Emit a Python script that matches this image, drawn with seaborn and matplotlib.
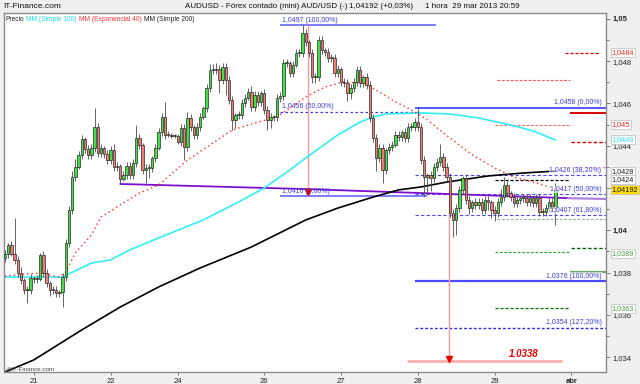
import matplotlib
matplotlib.use("Agg")
import matplotlib.pyplot as plt
import seaborn as sns
import pandas as pd

# ---------------- data ----------------
closes = [
    1.03888, 1.03931, 1.03888, 1.03860, 1.03798, 1.03765, 1.03718, 1.03718, 1.03774, 1.03770,
    1.03770, 1.03883, 1.03798, 1.03751, 1.03718, 1.03718, 1.03704, 1.03708, 1.03779, 1.03940,
    1.04096, 1.04252, 1.04299, 1.04356, 1.04432, 1.04384, 1.04356, 1.04389, 1.04488, 1.04366,
    1.04389, 1.04361, 1.04332, 1.04380, 1.04299, 1.04304, 1.04243, 1.04261, 1.04304, 1.04261,
    1.04318, 1.04436, 1.04403, 1.04285, 1.04295, 1.04295, 1.04342, 1.04389, 1.04465, 1.04536,
    1.04451, 1.04451, 1.04446, 1.04446, 1.04418, 1.04484, 1.04394, 1.04531, 1.04488, 1.04451,
    1.04488, 1.04536, 1.04578, 1.04673, 1.04758, 1.04758, 1.04763, 1.04711, 1.04772, 1.04711,
    1.04616, 1.04522, 1.04545, 1.04545, 1.04602, 1.04626, 1.04654, 1.04583, 1.04640, 1.04607,
    1.04649, 1.04569, 1.04522, 1.04536, 1.04536, 1.04626, 1.04635, 1.04791, 1.04791, 1.04744,
    1.04782, 1.04838, 1.04838, 1.04933, 1.04890, 1.04838, 1.04725, 1.04725, 1.04900, 1.04853,
    1.04843, 1.04815, 1.04815, 1.04744, 1.04763, 1.04701, 1.04696, 1.04649, 1.04673, 1.04701,
    1.04758, 1.04696, 1.04725, 1.04687, 1.04531, 1.04436, 1.04342, 1.04389, 1.04285, 1.04380,
    1.04394, 1.04403, 1.04451, 1.04441, 1.04465, 1.04436, 1.04488, 1.04488, 1.04512, 1.04488,
    1.04332, 1.04252, 1.04261, 1.04247, 1.04299, 1.04323, 1.04347, 1.04299, 1.04252, 1.04082,
    1.04049, 1.04105, 1.04191, 1.04247, 1.04143, 1.04105, 1.04134, 1.04120, 1.04134, 1.04096,
    1.04143, 1.04134, 1.04096, 1.04082, 1.04134, 1.04157, 1.04214, 1.04176, 1.04157, 1.04129,
    1.04143, 1.04153, 1.04153, 1.04134, 1.04153, 1.04129, 1.04153, 1.04087, 1.04087, 1.04105,
    1.04134, 1.04105, 1.04192,
]
first_open = 1.03870
# upper / lower shadows in pips (0.0001)
wick_up = [
    2, 1, 2, 17, 2, 3, 1, 2, 2, 1,
    2, 1, 2, 2, 1, 2, 2, 1, 2, 2,
    2, 3, 4, 2, 2, 1, 2, 2, 9, 2,
    2, 1, 2, 2, 3, 2, 1, 2, 2, 2,
    2, 6, 2, 1, 2, 2, 1, 2, 2, 2,
    7, 2, 1, 1, 1, 2, 2, 3, 2, 1,
    2, 2, 1, 2, 3, 3, 3, 2, 2, 2,
    2, 2, 1, 2, 2, 2, 2, 3, 2, 2,
    1, 2, 2, 2, 1, 2, 2, 2, 2, 1,
    2, 2, 2, 4, 2, 1, 2, 2, 2, 2,
    1, 2, 2, 2, 2, 1, 2, 2, 2, 2,
    2, 2, 1, 2, 2, 2, 2, 2, 2, 1,
    2, 2, 2, 2, 1, 2, 2, 2, 2, 7,
    2, 2, 1, 2, 2, 2, 6, 2, 2, 2,
    2, 2, 2, 1, 2, 2, 1, 2, 2, 2,
    2, 2, 1, 2, 2, 4, 4, 2, 1, 2,
    2, 1, 2, 2, 2, 1, 2, 2, 2, 2,
    2, 2, 3,
]
wick_dn = [
    2, 2, 1, 2, 2, 2, 2, 6, 2, 2,
    2, 1, 2, 2, 3, 2, 2, 2, 7, 2,
    2, 2, 2, 1, 2, 2, 2, 2, 2, 2,
    2, 2, 2, 2, 2, 2, 2, 1, 2, 2,
    2, 2, 2, 2, 6, 5, 2, 2, 1, 2,
    2, 1, 1, 1, 1, 2, 6, 2, 2, 2,
    2, 2, 1, 2, 2, 2, 2, 6, 2, 7,
    2, 5, 4, 2, 2, 2, 1, 2, 2, 2,
    2, 2, 5, 4, 2, 2, 2, 2, 2, 2,
    2, 1, 2, 2, 2, 2, 3, 3, 2, 2,
    2, 2, 2, 2, 2, 2, 2, 4, 3, 2,
    2, 2, 2, 2, 2, 2, 6, 2, 6, 2,
    2, 2, 1, 2, 2, 2, 2, 2, 2, 2,
    2, 9, 8, 6, 2, 2, 2, 2, 2, 2,
    8, 7, 2, 2, 2, 3, 2, 2, 2, 2,
    2, 4, 4, 4, 2, 2, 2, 2, 2, 2,
    2, 2, 2, 2, 2, 2, 2, 2, 2, 2,
    2, 2, 8,
]

day_ticks = [9, 33, 54, 81, 105, 129, 153, 177]
day_labels = ["21", "22", "24", "26", "27", "28", "29", "abr"]

ma100_x = [0, 18, 27, 33, 39, 48, 62, 73, 81, 89, 94, 104, 111, 115, 119, 130, 139, 148, 158, 165, 172]
ma100_y = [1.03779, 1.03779, 1.03845, 1.03860, 1.03907, 1.03964, 1.04049, 1.04134, 1.04200, 1.04285,
           1.04342, 1.04451, 1.04512, 1.04536, 1.04550, 1.04555, 1.04550, 1.04531, 1.04498, 1.04470, 1.04427]

ema40_x = [0, 11, 17, 19, 22, 27, 30, 33, 37, 42, 48, 57, 65, 71, 78, 85, 94, 100, 106, 112,
           116, 121, 127, 132, 137, 144, 147, 153, 159, 166, 172]
ema40_y = [1.03784, 1.03798, 1.03779, 1.03803, 1.03893, 1.03978, 1.04063, 1.04091, 1.04129, 1.04176,
           1.04214, 1.04332, 1.04413, 1.04474, 1.04507, 1.04536, 1.04630, 1.04678, 1.04701, 1.04696,
           1.04663, 1.04616, 1.04569, 1.04522, 1.04460, 1.04380, 1.04347, 1.04295, 1.04252, 1.04224, 1.04195]

ma200_x = [0, 9, 24, 36, 48, 61, 77, 94, 104, 115, 123, 130, 138, 151, 162, 172]
ma200_y = [1.03330, 1.03387, 1.03529, 1.03637, 1.03732, 1.03822, 1.03921, 1.04049, 1.04105, 1.04157,
           1.04191, 1.04205, 1.04228, 1.04257, 1.04271, 1.04280]

trend_x = [36, 94, 176]
trend_y = [1.04219, 1.04195, 1.04152]
trend_ext_x = [176, 188]
trend_ext_y = [1.04152, 1.04148]

fib1_levels = [1.0497, 1.0456, 1.0416]
fib1_labels = ["1,0497 (100,00%)", "1,0456 (50,00%)", "1,0416 (0,00%)"]
fib2_levels = [1.0458, 1.0426, 1.0417, 1.0407, 1.0376, 1.0354]
fib2_labels = ["1,0458 (0,00%)", "1,0426 (38,20%)", "1,0417 (50,00%)",
               "1,0407 (61,80%)", "1,0376 (100,00%)", "1,0354 (127,20%)"]
target_level = 1.0338
target_label = "1.0338"
red_levels = [1.0484, 1.0471, 1.04555, 1.0450, 1.04417, 1.0430]
black_level = 1.0424
green_levels = [1.04055, 1.03916, 1.03897, 1.03803, 1.03633]

# 1,042 is hidden behind the yellow last-price box in the reference
ytick_vals = [1.034, 1.036, 1.038, 1.040, 1.042, 1.044, 1.046, 1.048, 1.050]
ytick_labels = ["1,034", "1,036", "1,038", "1,04", "", "1,044", "1,046", "1,048", "1,05"]
ytick_minor = [1.035, 1.037, 1.039, 1.041, 1.043, 1.045, 1.047, 1.049]

side_labels = [("1,0484", 1.0484), ("1,045", 1.0450), ("1,0443", 1.0443), ("1,0428", 1.0428),
               ("1,0424", 1.0424), ("1,04192", 1.04192), ("1,0389", 1.0389), ("1,0363", 1.0363)]

legend_items = ["Precio", "MM (Simple 100)", "MM (Exponencial 40)", "MM (Simple 200)"]

# ---------------- figure ----------------
sns.set_theme(style="white")
plt.rcParams['font.family'] = ['Liberation Sans', 'DejaVu Sans']

W, H = 640, 384
fig = plt.figure(figsize=(6.4, 3.84), dpi=100, facecolor='#F0F0F0')
ax = fig.add_axes([4 / W, 1 - 372 / H, 602 / W, 359 / H])
ax.set_facecolor('white')

n = len(closes)
idx = list(range(n))
opens = [first_open] + closes[:-1]
df = pd.DataFrame({"i": idx, "open": opens, "close": closes, "up": wick_up, "dn": wick_dn})
df["top"] = df[["open", "close"]].max(axis=1)
df["bot"] = df[["open", "close"]].min(axis=1)
df["high"] = df["top"] + df["up"] * 1e-4
df["low"] = df["bot"] - df["dn"] * 1e-4
df["h"] = (df["top"] - df["bot"]).clip(lower=0.00003)
df["col"] = ["#44DD44" if c >= o else "#EE7B74" for o, c in zip(df["open"], df["close"])]

# left fib group
ax.hlines(fib1_levels[0], 86, 134.7, color='#5A5AFF', lw=1.1, zorder=1.5)
ax.hlines(fib1_levels[1], 86, 129.7, color='#3A3AEE', lw=0.9, linestyles=(0, (2, 2)), zorder=1.5)
ax.hlines(fib1_levels[2], 86, 131.9, color='#5A5AFF', lw=1.1, zorder=1.5)
# right fib group
ax.hlines(fib2_levels[0], 128, 188, color='#3A3AFF', lw=1.2, zorder=1.5)
for lv in fib2_levels[1:4]:
    ax.hlines(lv, 128, 188, color='#4A4AEE', lw=0.8, linestyles=(0, (3, 2)), zorder=1.5)
ax.hlines(fib2_levels[4], 128, 188, color='#4A4AFF', lw=1.6, zorder=1.5)
ax.hlines(fib2_levels[5], 128, 188, color='#2A2ADD', lw=1.0, linestyles=(0, (2, 1.5)), zorder=1.5)

# red levels
ax.hlines(red_levels[0], 175, 186, color='#DD0000', lw=0.9, linestyles=(0, (2.5, 1.5)), zorder=1.5)
ax.hlines(red_levels[1], 153.8, 176.6, color='#FF5555', lw=0.8, linestyles=(0, (2.5, 1.5)), zorder=1.5)
ax.hlines(red_levels[2], 176.6, 188, color='#DD0000', lw=1.4, zorder=1.5)
ax.hlines(red_levels[3], 153.1, 176.6, color='#FF6666', lw=0.8, linestyles=(0, (2.5, 1.5)), zorder=1.5)
ax.hlines(red_levels[4], 177, 188, color='#DD0000', lw=1.0, linestyles=(0, (2.5, 1.5)), zorder=1.5)
ax.hlines(red_levels[5], 177, 188, color='#FF8888', lw=0.8, linestyles=(0, (2.5, 1.5)), zorder=1.5)
ax.hlines(black_level, 153.1, 176.6, color='black', lw=0.9, linestyles=(0, (2.5, 1.5)), zorder=1.5)
# green levels
ax.hlines(green_levels[0], 153.8, 188, color='#88BB88', lw=0.8, linestyles=(0, (2.5, 1.5)), zorder=1.5)
ax.hlines(green_levels[1], 177, 188, color='#006600', lw=1.0, linestyles=(0, (2.5, 1.5)), zorder=1.5)
ax.hlines(green_levels[2], 153.1, 176.6, color='#339933', lw=0.8, linestyles=(0, (2.5, 1.5)), zorder=1.5)
ax.hlines(green_levels[3], 176.6, 188, color='#66AA66', lw=1.6, zorder=1.5)
ax.hlines(green_levels[4], 153.1, 176.6, color='#007700', lw=0.9, linestyles=(0, (2.5, 1.5)), zorder=1.5)

# projection arrows
ax.vlines(94.7, fib1_levels[2] + 0.00012, fib1_levels[0], color='#FF9999', lw=1.0, zorder=1.6)
ax.plot([94.7], [fib1_levels[2] + 0.00020], marker='v', color='#EE0000', ms=4, zorder=6)
ax.vlines(138.75, target_level + 0.0001, 1.0419, color='#FF9999', lw=1.0, zorder=1.6)
ax.hlines(target_level, 125.6, 174, color='#FFB0B0', lw=2.0, zorder=1.6)
ax.plot([138.75], [target_level + 0.00012], marker='v', color='#EE0000', ms=4, zorder=6)
ax.annotate(target_label, xy=(162, target_level), xytext=(0, 2), textcoords='offset points',
            ha='center', va='bottom', color='#EE0000', fontsize=7, fontweight='bold',
            fontstyle='italic', zorder=7)

# trend line (purple)
sns.lineplot(x=trend_x, y=trend_y, ax=ax, color='#7A10CC', linewidth=1.3, zorder=2.2)
sns.lineplot(x=trend_ext_x, y=trend_ext_y, ax=ax, color='#B080E0', linewidth=1.6, zorder=2.2)

# moving averages
sns.lineplot(x=ma100_x, y=ma100_y, ax=ax, color='#33EEF5', linewidth=1.2, zorder=2.3)
sns.lineplot(x=ma200_x, y=ma200_y, ax=ax, color='black', linewidth=1.2, zorder=2.3)
sns.lineplot(x=ema40_x, y=ema40_y, ax=ax, color='#FF2A2A', linewidth=1.0,
             dashes=False, zorder=2.3)
ax.lines[-1].set_linestyle((0, (1, 2.2)))

# candles
ax.vlines(df["i"], df["low"], df["high"], color='#4A4A4A', lw=0.6, zorder=3)
ax.bar(df["i"], df["h"], bottom=df["bot"], width=0.72, color=df["col"],
       edgecolor='#1A1A1A', linewidth=0.45, zorder=4)

# fib labels
fib_c = '#3C3CE0'
for lv, lab in zip(fib1_levels, fib1_labels):
    ax.annotate(lab, xy=(86.6, lv), xytext=(0, 1), textcoords='offset points',
                ha='left', va='bottom', fontsize=5, color=fib_c, zorder=7)
for lv, lab in zip(fib2_levels, fib2_labels):
    ax.annotate(lab, xy=(186.4, lv), xytext=(0, 1), textcoords='offset points',
                ha='right', va='bottom', fontsize=5, color=fib_c, zorder=7,
                bbox=dict(boxstyle='square,pad=0.05', fc='white', ec='none', alpha=0.6))

# axes limits & ticks
ax.set_xlim(-0.3, 187.8)
ax.set_ylim(1.0333, 1.050274)
ax.yaxis.tick_right()
ax.set_yticks(ytick_vals)
ax.set_yticklabels(ytick_labels)
ax.set_yticks(ytick_minor, minor=True)
ax.set_xticks(day_ticks)
ax.set_xticklabels(day_labels)
ax.tick_params(axis='y', which='both', right=True, left=False, direction='out', length=3,
               width=0.6, color='#666666', labelsize=5.5, pad=2, labelcolor='#222222')
ax.tick_params(axis='y', which='minor', length=2)
ax.tick_params(axis='x', bottom=True, direction='out', length=2, width=0.6, color='#666666',
               labelsize=5.5, pad=2, labelcolor='#222222')
for t in ax.get_yticklabels():
    if t.get_text() in ("1,05", "1,04"):
        t.set_fontweight('bold')
for t in ax.get_xticklabels():
    if t.get_text() == "abr":
        t.set_fontweight('bold')
ax.set_xlabel("")
ax.set_ylabel("")
for s in ax.spines.values():
    s.set_color('#8A8A8A')
    s.set_linewidth(1.0)

# right-side boxed value labels
side_colors = ['#EE2222', '#EE2222', '#22DDEE', '#222222', '#222222', '#111111', '#449944', '#449944']
for (lab, val), c in zip(side_labels, side_colors):
    fc = '#FFE000' if lab == "1,04192" else 'white'
    ax.text(1.009, val, lab, transform=ax.get_yaxis_transform(), fontsize=5.2, color=c,
            ha='left', va='center', clip_on=False, zorder=10,
            bbox=dict(boxstyle='square,pad=0.12', fc=fc, ec='#BBBBBB', lw=0.5))

# legend text inside plot, placed one after the other
leg_colors = ['#222222', '#22DDEE', '#FF3333', '#222222']
leg_y = (372 - 19.5) / 359
prev = ax.text((5 - 4) / 602, leg_y, legend_items[0], transform=ax.transAxes, fontsize=4.8,
               color=leg_colors[0], ha='left', va='center', zorder=8)
for txt, c in zip(legend_items[1:], leg_colors[1:]):
    prev = ax.annotate(txt, xy=(1, 0.5), xycoords=prev, xytext=(1.6, 0), textcoords='offset points',
                       fontsize=4.8, color=c, ha='left', va='center', zorder=8)

ax.text((5 - 4) / 602, (372 - 369) / 359, "@IT-Finance.com", transform=ax.transAxes, fontsize=4.5,
        color='#444444', ha='left', va='center', zorder=8)

# header
hy = 1 - 7 / H
fig.text(3 / W, hy, "IT-Finance.com", fontsize=6, color='#111111', ha='left', va='center')
fig.text(185 / W, hy, "AUDUSD - Fórex contado (mini) AUD/USD (-)", fontsize=5.8, color='#111111',
         ha='left', va='center')
fig.text(349 / W, hy, "1,04192 (+0,03%)", fontsize=5.8, color='#111111', ha='left', va='center')
fig.text(425 / W, hy, "1 hora  29 mar 2013 20:59", fontsize=5.8, color='#111111', ha='left', va='center')

fig.savefig("out.png", dpi=100, facecolor=fig.get_facecolor())
